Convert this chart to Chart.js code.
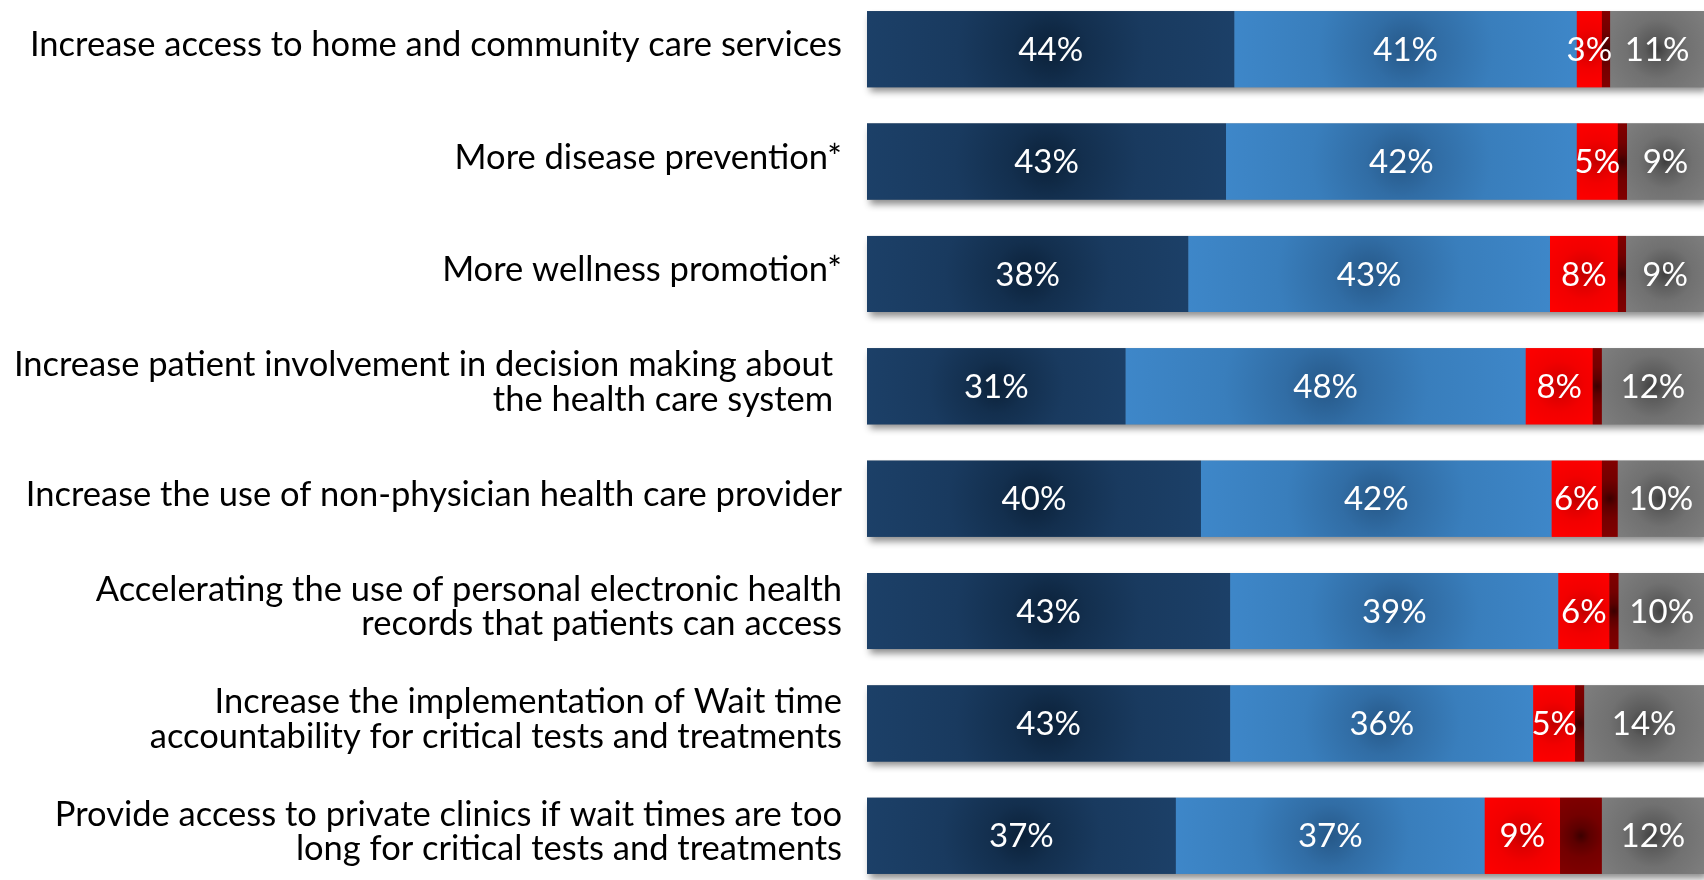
<!DOCTYPE html>
<html>
<head>
<meta charset="utf-8">
<script src="https://cdn.jsdelivr.net/npm/chart.js@4.4.1/dist/chart.umd.min.js"></script>
<style>
  html, body { margin: 0; padding: 0; background: #ffffff; overflow: hidden; width: 1704px; height: 880px; }
  #wrap { position: absolute; left: 0; top: -7px; width: 1704px; height: 899px; }
</style>
</head>
<body>
<div id="wrap"><canvas id="c" width="1704" height="899"></canvas></div>
<script>
const categories = [
  "Increase access to home and community care services",
  "More disease prevention*",
  "More wellness promotion*",
  ["Increase patient involvement in decision making about ", "the health care system "],
  "Increase the use of non-physician health care provider",
  ["Accelerating the use of personal electronic health", "records that patients can access"],
  ["Increase the implementation of Wait time", "accountability for critical tests and treatments"],
  ["Provide access to private clinics if wait times are too", "long for critical tests and treatments"]
];
const seriesDarkBlue  = [43.9, 42.9, 38.4, 30.9, 39.9, 43.4, 43.4, 36.9];
const seriesLightBlue = [40.9, 41.9, 43.2, 47.8, 41.9, 39.2, 36.2, 36.9];
const seriesRed       = [3.0, 4.9, 8.1, 8.0, 6.0, 6.1, 5.0, 9.0];
const seriesDarkRed   = [1.0, 1.1, 1.0, 1.1, 1.9, 1.1, 1.1, 5.0];
const seriesGray      = [11.2, 9.2, 9.3, 12.2, 10.3, 10.3, 14.3, 12.2];

const edgeColors   = ["#1c4068", "#3e87c9", "#ff0000", "#820000", "#7e7e7e"];
const centerColors = ["#0b2139", "#265888", "#c00000", "#3c0000", "#3e3e3e"];
const showLabel    = [true, true, true, false, true];

function hexToRgb(h) {
  const n = parseInt(h.slice(1), 16);
  return [(n >> 16) & 255, (n >> 8) & 255, n & 255];
}
function mix(a, b, t) {
  const A = hexToRgb(a), B = hexToRgb(b);
  return 'rgb(' + A.map((v, k) => Math.round(v + (B[k] - v) * t)).join(',') + ')';
}
const gradStops = [[0, 0], [0.2, 0.45], [0.5, 0.8], [1, 1]];

const shadowPlugin = {
  id: 'rowShadow',
  beforeDatasetsDraw(chart) {
    const ctx = chart.ctx;
    const xs = chart.scales.x;
    const meta0 = chart.getDatasetMeta(0);
    ctx.save();
    ctx.shadowColor = 'rgba(0,0,0,0.45)';
    ctx.shadowBlur = 7;
    ctx.shadowOffsetX = 3;
    ctx.shadowOffsetY = 5;
    ctx.fillStyle = '#808080';
    meta0.data.forEach((el, i) => {
      let total = 0;
      chart.data.datasets.forEach(ds => { total += ds.data[i]; });
      const p = el.getProps(['y', 'height'], true);
      const l = xs.getPixelForValue(0);
      const r = xs.getPixelForValue(total);
      ctx.fillRect(l, p.y - p.height / 2, r - l, p.height);
    });
    ctx.restore();
  }
};

const gradientLabelPlugin = {
  id: 'gradLabels',
  afterDatasetsDraw(chart) {
    const ctx = chart.ctx;
    chart.data.datasets.forEach((ds, di) => {
      const meta = chart.getDatasetMeta(di);
      meta.data.forEach((el) => {
        const p = el.getProps(['x', 'y', 'base', 'height'], true);
        const l = Math.min(p.x, p.base), r = Math.max(p.x, p.base);
        const t = p.y - p.height / 2, h = p.height, w = r - l;
        if (w <= 0) return;
        const cx = l + w / 2, cy = p.y;
        const rad = Math.sqrt((w / 2) * (w / 2) + (h / 2) * (h / 2));
        const g = ctx.createRadialGradient(cx, cy, 0, cx, cy, rad);
        gradStops.forEach(([pos, f]) => g.addColorStop(pos, mix(centerColors[di], edgeColors[di], f)));
        ctx.save();
        ctx.fillStyle = g;
        ctx.fillRect(l, t, w, h);
        ctx.restore();
      });
    });
    ctx.save();
    ctx.fillStyle = '#ffffff';
    ctx.font = '33px Lato';
    ctx.textAlign = 'center';
    ctx.textBaseline = 'middle';
    chart.data.datasets.forEach((ds, di) => {
      if (!showLabel[di]) return;
      const meta = chart.getDatasetMeta(di);
      meta.data.forEach((el, i) => {
        const p = el.getProps(['x', 'y', 'base'], true);
        ctx.fillText(Math.round(ds.data[i]) + '%', (p.x + p.base) / 2, p.y + 1);
      });
    });
    ctx.restore();
  }
};

const seriesList = [seriesDarkBlue, seriesLightBlue, seriesRed, seriesDarkRed, seriesGray];
const seriesNames = ["Dark blue", "Light blue", "Red", "Dark red", "Gray"];

new Chart(document.getElementById('c'), {
  type: 'bar',
  data: {
    labels: categories,
    datasets: seriesList.map((s, i) => ({
      label: seriesNames[i],
      data: s,
      backgroundColor: edgeColors[i],
      borderWidth: 0,
      categoryPercentage: 1,
      barPercentage: 0.676
    }))
  },
  options: {
    indexAxis: 'y',
    responsive: false,
    devicePixelRatio: 1,
    animation: false,
    layout: { padding: 0 },
    plugins: { legend: { display: false }, tooltip: { enabled: false }, title: { display: false } },
    scales: {
      x: { stacked: true, min: 0, max: 100, display: false },
      y: {
        stacked: true,
        grid: { display: false, drawTicks: false },
        border: { display: false },
        ticks: {
          autoSkip: false,
          color: '#000000',
          padding: 25,
          labelOffset: -4,
          font: { family: 'Lato', size: 34.5, lineHeight: 1.0 }
        },
        afterFit(scale) {
          scale.width = 867;
          scale.paddingTop = 0;
          scale.paddingBottom = 0;
        }
      }
    }
  },
  plugins: [shadowPlugin, gradientLabelPlugin]
});
</script>
</body>
</html>
